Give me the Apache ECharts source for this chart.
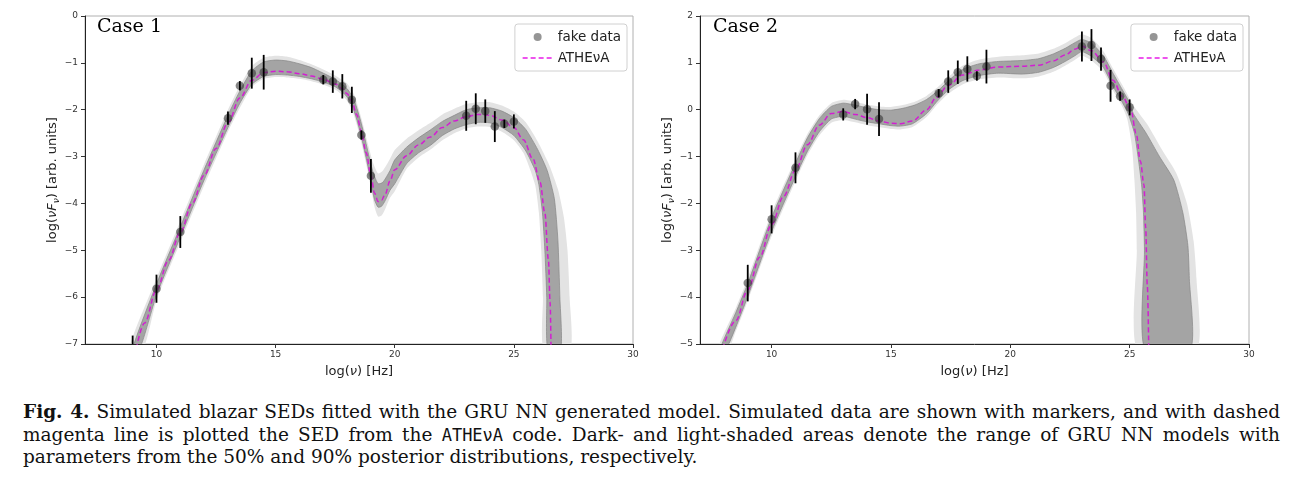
<!DOCTYPE html>
<html><head><meta charset="utf-8">
<script src="https://cdn.jsdelivr.net/npm/echarts@6/dist/echarts.min.js"></script>
<style>
html,body{margin:0;padding:0;background:#fff;width:1297px;height:494px;overflow:hidden}
#chart{position:absolute;left:0;top:0;width:1297px;height:392px}
#caption{position:absolute;left:23px;top:401px;width:1257px;font-family:"DejaVu Serif";font-size:18.5px;color:#111;line-height:22.5px}
.ln{text-align:justify;text-align-last:justify}
.last{text-align:left;text-align-last:left}
.tt{font-family:"DejaVu Sans Mono";font-size:17px}
</style></head>
<body>
<div id="chart"></div>
<div id="caption">
<div class="ln"><b>Fig. 4.</b> Simulated blazar SEDs fitted with the GRU NN generated model. Simulated data are shown with markers, and with dashed</div>
<div class="ln">magenta line is plotted the SED from the <span class="tt">ATHEνA</span> code. Dark- and light-shaded areas denote the range of GRU NN models with</div>
<div class="last">parameters from the 50% and 90% posterior distributions, respectively.</div>
</div>
<script>
// ---------- data ----------
const xTicks = [10, 15, 20, 25, 30];
const caseTitles = ['Case 1', 'Case 2'];
const legendNames = ['fake data', 'ATHEνA'];

// Case 1 simulated data
const case1X   = [9, 10, 11, 13, 13.5, 14, 14.5, 17, 17.4, 17.8, 18.2, 18.6, 19, 23, 23.4, 23.8, 24.2, 24.6, 25];
const case1Y   = [-7.1, -5.82, -4.61, -2.18, -1.49, -1.22, -1.2, -1.36, -1.4, -1.5, -1.79, -2.54, -3.41, -2.13, -1.98, -2.03, -2.36, -2.3, -2.25];
const case1Err = [0.28, 0.3, 0.34, 0.14, 0.1, 0.33, 0.37, 0.1, 0.24, 0.26, 0.28, 0.1, 0.36, 0.32, 0.33, 0.25, 0.33, 0.09, 0.15];

// Case 1 ATHEvA model
const case1Model = [[9.15,-7.1],[9.5,-6.55],[10,-5.85],[10.5,-5.22],[11,-4.62],[11.5,-4.0],[12,-3.4],[12.5,-2.83],[13,-2.28],[13.5,-1.75],[14,-1.37],[14.5,-1.21],[15,-1.18],[15.5,-1.19],[16,-1.23],[16.5,-1.28],[17,-1.35],[17.5,-1.45],[17.8,-1.55],[18,-1.66],[18.2,-1.82],[18.4,-2.1],[18.6,-2.47],[18.8,-2.92],[19,-3.4],[19.15,-3.78],[19.3,-3.96],[19.45,-3.93],[19.6,-3.8],[19.8,-3.52],[20,-3.28],[20.5,-2.98],[21,-2.75],[21.5,-2.58],[22,-2.38],[22.5,-2.24],[23,-2.15],[23.5,-2.1],[24,-2.12],[24.5,-2.22],[25,-2.38],[25.4,-2.64],[25.8,-3.05],[26.1,-3.55],[26.3,-4.2],[26.45,-5.2],[26.52,-6.1],[26.56,-7.1]];

// Case 1 posterior bands (upper/right edge and lower/left edge)
const case1DarkUpper = [[9.0,-7.1],[10,-5.72],[11,-4.5],[12,-3.28],[13,-2.12],[13.5,-1.6],[14,-1.17],[14.5,-0.98],[15,-0.94],[15.5,-0.96],[16,-1.02],[16.5,-1.1],[17,-1.22],[17.5,-1.35],[18,-1.55],[18.3,-1.8],[18.6,-2.3],[18.9,-2.95],[19.1,-3.35],[19.3,-3.58],[19.5,-3.55],[19.8,-3.3],[20,-3.07],[20.5,-2.8],[21,-2.6],[21.5,-2.43],[22,-2.25],[22.5,-2.12],[23,-2.0],[23.5,-1.96],[24,-1.96],[24.5,-2.03],[25,-2.17],[25.5,-2.42],[26,-2.85],[26.4,-3.3],[26.7,-3.9],[26.85,-4.8],[26.93,-6.0],[26.97,-7.1]];
const case1DarkLower = [[9.3,-7.1],[10,-5.96],[11,-4.72],[12,-3.5],[13,-2.38],[13.5,-1.86],[14,-1.46],[14.5,-1.29],[15,-1.25],[15.5,-1.26],[16,-1.29],[16.5,-1.34],[17,-1.41],[17.5,-1.51],[17.8,-1.62],[18,-1.73],[18.2,-1.9],[18.4,-2.2],[18.6,-2.58],[18.8,-3.03],[19,-3.53],[19.15,-3.92],[19.3,-4.08],[19.45,-4.06],[19.6,-3.94],[19.8,-3.72],[20,-3.58],[20.5,-3.15],[21,-2.92],[21.5,-2.76],[22,-2.55],[22.5,-2.41],[23,-2.32],[23.5,-2.27],[24,-2.28],[24.5,-2.38],[25,-2.55],[25.5,-2.88],[25.9,-3.3],[26.05,-3.6],[26.2,-4.2],[26.3,-5.0],[26.38,-6.0],[26.42,-7.1]];
const case1LightUpper = [[8.85,-7.1],[10,-5.6],[11,-4.38],[12,-3.16],[13,-2.0],[13.5,-1.49],[14,-1.07],[14.5,-0.89],[15,-0.85],[15.5,-0.87],[16,-0.94],[16.5,-1.03],[17,-1.14],[17.5,-1.27],[18,-1.44],[18.3,-1.68],[18.6,-2.18],[18.9,-2.78],[19.1,-3.15],[19.3,-3.36],[19.5,-3.3],[19.8,-3.05],[20,-2.86],[20.5,-2.62],[21,-2.44],[21.5,-2.28],[22,-2.1],[22.5,-1.98],[23,-1.88],[23.5,-1.84],[24,-1.84],[24.5,-1.91],[25,-2.04],[25.5,-2.27],[26,-2.68],[26.5,-3.2],[26.85,-3.7],[27.1,-4.3],[27.25,-5.0],[27.34,-6.0],[27.37,-7.1]];
const case1LightLower = [[9.45,-7.1],[10,-6.07],[11,-4.83],[12,-3.62],[13,-2.47],[13.5,-1.96],[14,-1.52],[14.5,-1.34],[15,-1.3],[15.5,-1.31],[16,-1.34],[16.5,-1.39],[17,-1.46],[17.5,-1.57],[17.8,-1.69],[18,-1.81],[18.2,-1.99],[18.4,-2.31],[18.6,-2.71],[18.8,-3.16],[19,-3.66],[19.15,-4.07],[19.3,-4.28],[19.45,-4.26],[19.6,-4.12],[19.8,-3.88],[20,-3.74],[20.5,-3.26],[21,-3.02],[21.5,-2.85],[22,-2.65],[22.5,-2.5],[23,-2.4],[23.5,-2.36],[24,-2.37],[24.5,-2.47],[25,-2.65],[25.4,-2.92],[25.7,-3.3],[25.9,-3.62],[26.05,-4.2],[26.15,-5.0],[26.22,-6.0],[26.25,-7.1]];

// Case 2 simulated data
const case2X   = [9, 10, 11, 13, 13.5, 14, 14.5, 17, 17.4, 17.8, 18.2, 18.6, 19, 23, 23.4, 23.8, 24.2, 24.6, 25];
const case2Y   = [-3.7, -2.34, -1.24, -0.1, 0.12, 0.01, -0.2, 0.35, 0.6, 0.8, 0.87, 0.72, 0.92, 1.35, 1.38, 1.08, 0.51, 0.29, 0.05];
const case2Err = [0.39, 0.3, 0.33, 0.13, 0.11, 0.33, 0.36, 0.09, 0.24, 0.25, 0.27, 0.1, 0.36, 0.32, 0.34, 0.25, 0.34, 0.1, 0.17];

// Case 2 ATHEvA model
const case2Model = [[7.95,-5.1],[8.5,-4.5],[9,-3.85],[9.5,-3.15],[10,-2.45],[10.5,-1.85],[11,-1.29],[11.5,-0.75],[12,-0.33],[12.5,-0.08],[13,-0.04],[13.5,-0.1],[14,-0.17],[14.5,-0.24],[15,-0.29],[15.4,-0.3],[15.9,-0.24],[16.5,0.0],[16.9,0.26],[17.4,0.52],[18,0.74],[18.7,0.85],[19.5,0.91],[20.5,0.93],[21.2,0.95],[21.8,1.04],[22.3,1.17],[22.7,1.29],[23.0,1.36],[23.4,1.26],[23.9,1.02],[24.3,0.63],[24.7,0.28],[25.05,0.0],[25.27,-0.5],[25.45,-1.1],[25.6,-1.6],[25.67,-2.5],[25.74,-3.75],[25.8,-5.1]];

// Case 2 posterior bands
const case2DarkUpper = [[7.85,-5.1],[8.5,-4.33],[9,-3.71],[10,-2.3],[11,-1.14],[11.5,-0.6],[12,-0.19],[12.5,0.07],[13,0.14],[13.5,0.1],[14,0.04],[14.5,0.0],[15,-0.01],[15.5,0.03],[16,0.1],[16.5,0.22],[17,0.42],[17.5,0.66],[18,0.86],[18.7,0.98],[19.5,1.03],[20.5,1.05],[21.2,1.09],[21.8,1.19],[22.3,1.31],[22.7,1.43],[23,1.5],[23.4,1.42],[23.9,1.15],[24.3,0.78],[24.7,0.42],[25.0,0.15],[25.15,-0.08],[25.69,-0.5],[26.25,-1.0],[26.85,-1.5],[27.23,-2.2],[27.44,-2.9],[27.5,-3.6],[27.55,-5.1]];
const case2DarkLower = [[8.1,-5.1],[8.5,-4.64],[9,-3.99],[10,-2.6],[11,-1.43],[11.5,-0.89],[12,-0.47],[12.5,-0.2],[13,-0.14],[13.5,-0.2],[14,-0.26],[14.5,-0.3],[15,-0.34],[15.4,-0.35],[15.9,-0.3],[16.5,-0.08],[16.9,0.16],[17.4,0.42],[18,0.62],[18.7,0.73],[19.5,0.78],[20.5,0.76],[21.2,0.8],[21.8,0.9],[22.3,1.03],[22.7,1.15],[23,1.24],[23.4,1.14],[23.9,0.9],[24.3,0.5],[24.7,0.15],[24.95,-0.1],[25.2,-0.5],[25.35,-1.0],[25.5,-1.6],[25.58,-2.2],[25.62,-3.0],[25.63,-5.1]];
const case2LightUpper = [[7.75,-5.1],[8.5,-4.23],[9,-3.6],[10,-2.2],[11,-1.05],[11.5,-0.52],[12,-0.12],[12.5,0.14],[13,0.21],[13.5,0.17],[14,0.11],[14.5,0.07],[15,0.06],[15.5,0.1],[16,0.17],[16.5,0.3],[17,0.5],[17.5,0.74],[18,0.94],[18.7,1.07],[19.5,1.13],[20.5,1.16],[21.2,1.2],[21.8,1.3],[22.3,1.42],[22.7,1.54],[23,1.61],[23.4,1.53],[23.9,1.25],[24.3,0.88],[24.7,0.52],[25.0,0.24],[25.2,0.06],[25.75,-0.32],[26.35,-0.85],[26.95,-1.35],[27.4,-2.0],[27.68,-2.8],[27.8,-3.6],[27.82,-5.1]];
const case2LightLower = [[8.2,-5.1],[8.5,-4.73],[9,-4.08],[10,-2.7],[11,-1.52],[11.5,-0.97],[12,-0.55],[12.5,-0.28],[13,-0.22],[13.5,-0.27],[14,-0.33],[14.5,-0.37],[15,-0.41],[15.4,-0.42],[15.9,-0.37],[16.5,-0.15],[16.9,0.09],[17.4,0.34],[18,0.54],[18.7,0.65],[19.5,0.69],[20.5,0.67],[21.2,0.71],[21.8,0.81],[22.3,0.94],[22.7,1.06],[23,1.15],[23.4,1.05],[23.9,0.81],[24.3,0.41],[24.7,0.06],[24.9,-0.2],[25.1,-0.8],[25.2,-1.5],[25.27,-2.2],[25.3,-3.0],[25.31,-5.1]];

// ---------- rendering helpers ----------
const chart = echarts.init(document.getElementById('chart'), null, {renderer: 'canvas'});

function clipRect(cs) { return {type: 'rect', shape: {x: cs.x, y: cs.y, width: cs.width, height: cs.height}}; }

function bandSeries(gi, upper, lower, fill, stroke, z) {
  const pts = upper.concat(lower.slice().reverse());
  return {
    type: 'custom', xAxisIndex: gi, yAxisIndex: gi, silent: true, clip: true, z: z,
    data: pts,
    renderItem: function (params, api) {
      if (params.dataIndex !== 0) return null;
      const poly = pts.map(function (p) { return api.coord(p); });
      return {
        type: 'polygon',
        shape: {points: poly, smooth: 0.2},
        style: {fill: fill, stroke: stroke, lineWidth: stroke ? 0.7 : 0},
        clipPath: clipRect(params.coordSys)
      };
    }
  };
}

function errSeries(gi, xs, ys, es) {
  return {
    type: 'custom', xAxisIndex: gi, yAxisIndex: gi, silent: true, clip: true, z: 6,
    data: xs.map(function (x, i) { return [x, ys[i], es[i]]; }),
    renderItem: function (params, api) {
      const x = api.value(0), y = api.value(1), e = api.value(2);
      const p1 = api.coord([x, y - e]), p2 = api.coord([x, y + e]);
      return {
        type: 'line',
        shape: {x1: p1[0], y1: p1[1], x2: p2[0], y2: p2[1]},
        style: {stroke: '#000', lineWidth: 1.8},
        clipPath: clipRect(params.coordSys)
      };
    }
  };
}

function modelSeries(gi, pts) {
  return {
    name: legendNames[1], type: 'line', xAxisIndex: gi, yAxisIndex: gi, data: pts,
    symbol: 'none', smooth: 0.35, smoothMonotone: 'x', silent: true, z: 4, clip: true,
    lineStyle: {color: '#d21fd2', width: 1.5, type: [5, 3]},
    itemStyle: {color: '#d21fd2'}
  };
}

function scatterSeries(gi, xs, ys) {
  return {
    name: legendNames[0], type: 'scatter', xAxisIndex: gi, yAxisIndex: gi,
    data: xs.map(function (x, i) { return [x, ys[i]]; }),
    symbol: 'circle', symbolSize: 8.5, silent: true, z: 5, clip: true,
    itemStyle: {color: 'rgba(55,55,55,0.75)'}
  };
}

const tickFmt = function (v) { return v < 0 ? '\u2212' + Math.abs(v) : String(v); };

function xAxis(gi) {
  return {
    gridIndex: gi, type: 'value', min: 7, max: 30,
    name: 'log({i|ν}) [Hz]', nameLocation: 'middle', nameGap: 21,
    nameTextStyle: {fontFamily: 'DejaVu Sans', fontSize: 13, color: '#222',
      rich: {i: {fontFamily: 'DejaVu Sans', fontStyle: 'italic', fontSize: 13, color: '#222'}}},
    axisLine: {show: true, onZero: false, lineStyle: {color: '#222', width: 1}},
    axisTick: {show: true, length: 4, customValues: xTicks, lineStyle: {color: '#333'}},
    axisLabel: {customValues: xTicks, fontFamily: 'DejaVu Sans', fontSize: 9, color: '#333', margin: 6, formatter: tickFmt},
    splitLine: {show: false}
  };
}

function yAxis(gi, min, max) {
  return {
    gridIndex: gi, type: 'value', min: min, max: max, interval: 1,
    name: 'log({i|νF}{s|ν}) [arb. units]', nameLocation: 'middle', nameGap: 21,
    nameTextStyle: {fontFamily: 'DejaVu Sans', fontSize: 13, color: '#222', lineHeight: 16,
      rich: {
        i: {fontFamily: 'DejaVu Sans', fontStyle: 'italic', fontSize: 13, color: '#222', lineHeight: 16},
        s: {fontFamily: 'DejaVu Sans', fontStyle: 'italic', fontSize: 9, color: '#222', lineHeight: 9, padding: [8, 0, 0, 0]}
      }},
    axisLine: {show: true, onZero: false, lineStyle: {color: '#222', width: 1}},
    axisTick: {show: true, length: 4, lineStyle: {color: '#333'}},
    axisLabel: {fontFamily: 'DejaVu Sans', fontSize: 9, color: '#333', margin: 7, formatter: tickFmt},
    splitLine: {show: false}
  };
}

function legend(right) {
  return {
    data: [
      {name: legendNames[0], icon: 'circle', itemStyle: {color: '#7a7a7a'}},
      {name: legendNames[1], itemStyle: {color: 'transparent', borderColor: 'transparent', borderWidth: 0, opacity: 0},
       lineStyle: {color: '#e81ce8', width: 1.5, type: [5, 3], opacity: 1}}
    ],
    orient: 'vertical', right: right, top: 24,
    itemWidth: 30, itemHeight: 8, itemGap: 7,
    padding: [6, 6, 6, 7],
    backgroundColor: 'rgba(255,255,255,0.85)', borderColor: '#d0d0d0', borderWidth: 1, borderRadius: 3,
    textStyle: {fontFamily: 'DejaVu Sans', fontSize: 13.5, color: '#222'},
    selectedMode: false
  };
}

const grids = [
  {left: 85, top: 16, width: 548, height: 328, show: true, borderColor: '#b0b0b0', borderWidth: 1, backgroundColor: 'transparent'},
  {left: 700, top: 16, width: 549, height: 328, show: true, borderColor: '#b0b0b0', borderWidth: 1, backgroundColor: 'transparent'}
];

const option = {
  animation: false,
  backgroundColor: '#fff',
  grid: grids,
  xAxis: [xAxis(0), xAxis(1)],
  yAxis: [yAxis(0, -7, 0), yAxis(1, -5, 2)],
  legend: [legend(670), legend(54)],
  graphic: [
    {type: 'text', left: 97, top: 18, z: 10, style: {text: caseTitles[0], font: '19px "DejaVu Serif"', fill: '#000'}},
    {type: 'text', left: 713, top: 18, z: 10, style: {text: caseTitles[1], font: '19px "DejaVu Serif"', fill: '#000'}}
  ],
  series: [
    bandSeries(0, case1LightUpper, case1LightLower, '#e3e3e3', null, 1),
    bandSeries(0, case1DarkUpper, case1DarkLower, '#a4a4a4', '#858585', 2),
    modelSeries(0, case1Model),
    scatterSeries(0, case1X, case1Y),
    errSeries(0, case1X, case1Y, case1Err),
    bandSeries(1, case2LightUpper, case2LightLower, '#e3e3e3', null, 1),
    bandSeries(1, case2DarkUpper, case2DarkLower, '#a4a4a4', '#858585', 2),
    modelSeries(1, case2Model),
    scatterSeries(1, case2X, case2Y),
    errSeries(1, case2X, case2Y, case2Err)
  ]
};
chart.setOption(option);
</script>
</body></html>
